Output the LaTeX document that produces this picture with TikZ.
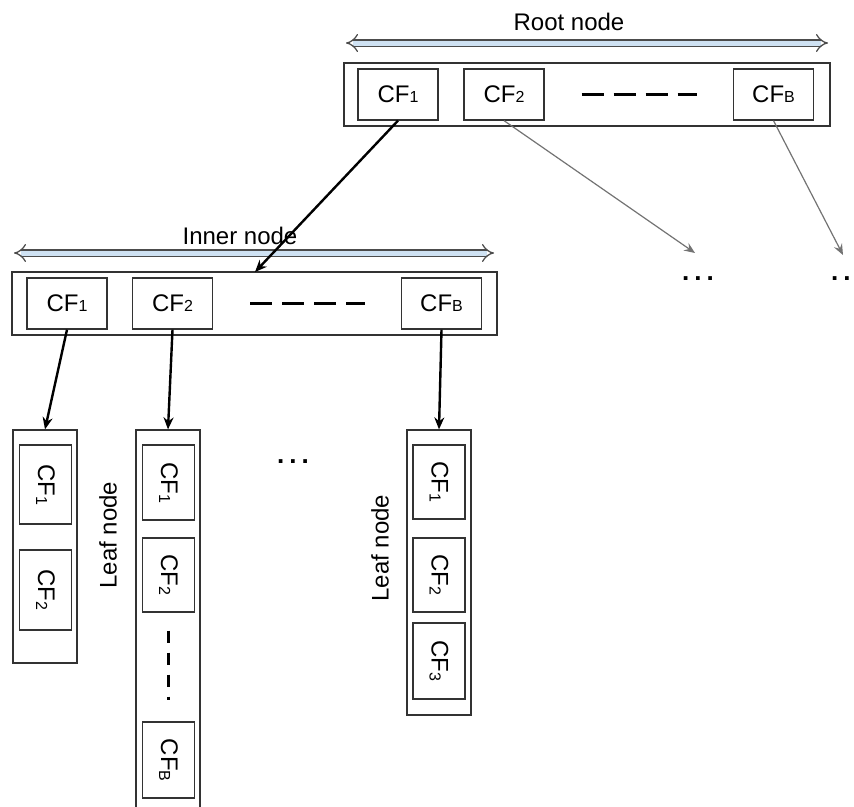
\documentclass[tikz,border=0pt]{standalone}
\usepackage{fontspec}
\setmainfont{Liberation Sans}
\usetikzlibrary{arrows.meta,calc}
\definecolor{spanblue}{HTML}{CFE2F3}
\newcommand\dg[1]{{\fontsize{16}{16}\selectfont #1}}
\newcommand\ldg[1]{\raisebox{-2pt}{\fontsize{16}{16}\selectfont #1}}
\begin{document}
\begin{tikzpicture}[x=1pt,y=-1pt,font=\fontsize{24}{28}\selectfont,
  container/.style={draw=black!80,line width=1.3pt,inner sep=0pt},
  cf/.style={draw=black!80,line width=1.3pt,inner sep=0pt,minimum width=80pt,minimum height=51pt},
  lcf/.style={draw=black!80,line width=1.3pt,inner sep=0pt,minimum height=52pt,rotate=-90},
  span/.style={draw=black!70,line width=1.3pt,double=spanblue,double distance=5pt,{Implies}-{Implies}},
  dashsep/.style={line width=2.5pt,dash pattern=on 22pt off 10pt},
  vdash/.style={line width=3pt,dash pattern=on 12pt off 10pt},
  blackarr/.style={line width=2.4pt,-{Stealth[length=12pt,width=10pt]}},
  grayarr/.style={draw=black!55,line width=1.2pt,-{Stealth[length=11pt,width=9pt,inset=4pt]}},
  plain/.style={inner sep=0pt},
  dots/.style={inner sep=0pt,font=\fontsize{26}{28}\selectfont\bfseries}]
\useasboundingbox (0,0) rectangle (854,806);
\clip (0,0) rectangle (854,806);

% root node
\node[plain] (rootlbl) at (569,22) {Root node};
\coordinate (rootL) at (346,43);
\coordinate (rootR) at (828,43);
\draw[span] (rootL) -- (rootR);
\node[container,minimum width=486pt,minimum height=63pt] (root) at (587,94.5) {};
\node[cf] (rcf1) at (398,94.5) {CF\dg{1}};
\node[cf] (rcf2) at (504,94.5) {CF\dg{2}};
\node[cf] (rcfB) at (773.5,94.5) {CF\dg{B}};
\draw[dashsep] ($(rcf2.east)+(37,0)$) -- ($(rcfB.west)+(-36,0)$);

% inner node
\node[plain] (innerlbl) at (240,236) {Inner node};
\coordinate (innerL) at (14,253);
\coordinate (innerR) at (494,253);
\draw[span] (innerL) -- (innerR);
\node[container,minimum width=485pt,minimum height=63pt] (inner) at (254.5,303.5) {};
\node[cf] (icf1) at (67,303.5) {CF\dg{1}};
\node[cf] (icf2) at (172.5,303.5) {CF\dg{2}};
\node[cf] (icfB) at (441.5,303.5) {CF\dg{B}};
\draw[dashsep] ($(icf2.east)+(37,0)$) -- ($(icfB.west)+(-36,0)$);

% root -> inner
\coordinate (innerin) at (255,272);
\draw[blackarr] (rcf1.south) -- (innerin);

% other children of root
\node[dots] (dotsA) at (698,279) {.\hspace{5pt}.\hspace{5pt}.};
\node[dots,anchor=west] (dotsB) at (831,279) {.\hspace{5pt}.};
\coordinate (endA) at (695,253);
\coordinate (endB) at (843,255);
\draw[grayarr] (rcf2.south) -- (endA);
\draw[grayarr] (rcfB.south) -- (endB);

% leaf 1
\node[container,minimum width=64pt,minimum height=233pt] (leaf1) at (45,546.5) {};
\node[lcf,minimum width=79pt] (l1cf1) at (45.5,484.5) {CF\ldg{1}};
\node[lcf,minimum width=80pt] (l1cf2) at (45.5,590) {CF\ldg{2}};
\node[plain,rotate=90] (leaflbl1) at (108,535) {Leaf node};

% leaf 2
\node[container,minimum width=64pt,minimum height=385pt] (leaf2) at (168,622.5) {};
\node[lcf,minimum width=75pt] (l2cf1) at (168.5,482.5) {CF\ldg{1}};
\node[lcf,minimum width=74pt] (l2cf2) at (168.5,575) {CF\ldg{2}};
\node[lcf,minimum width=76pt] (l2cfB) at (168.5,760) {CF\ldg{B}};
\draw[vdash] ($(l2cf2.east)+(0,18)$) -- ($(l2cfB.west)+(0,-21)$);

\node[dots] (dotsC) at (293,462) {.\hspace{5pt}.\hspace{5pt}.};

% leaf 3
\node[container,minimum width=64pt,minimum height=285pt] (leaf3) at (439,572.5) {};
\node[lcf,minimum width=74pt] (l3cf1) at (439,482) {CF\ldg{1}};
\node[lcf,minimum width=74pt] (l3cf2) at (439,575) {CF\ldg{2}};
\node[lcf,minimum width=76pt] (l3cf3) at (439,661) {CF\ldg{3}};
\node[plain,rotate=90] (leaflbl2) at (380,548) {Leaf node};

% inner -> leaves
\draw[blackarr] (icf1.south) -- (leaf1.north);
\draw[blackarr] (icf2.south) -- (leaf2.north);
\draw[blackarr] (icfB.south) -- (leaf3.north);
\end{tikzpicture}
\end{document}
